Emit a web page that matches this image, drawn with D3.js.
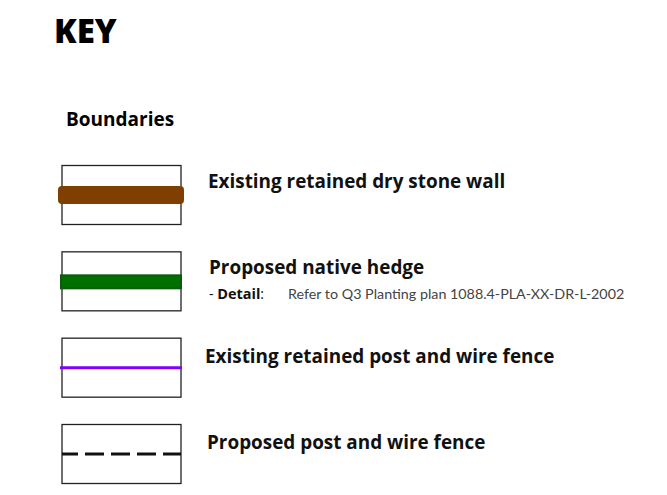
<!DOCTYPE html>
<html>
<head>
<meta charset="utf-8">
<script src="https://cdn.jsdelivr.net/npm/d3@7"></script>
<style>
  body { margin: 0; background: #fff; }
  text { font-family: "Open Sans", Lato, sans-serif; }
</style>
</head>
<body>
<div id="chart"></div>
<script>
// Key entries
const labels = [
  "Existing retained dry stone wall",
  "Proposed native hedge",
  "Existing retained post and wire fence",
  "Proposed post and wire fence"
];
const lineKinds = ["wall", "hedge", "fence", "dashed"];
const lineColors = ["#7f3f00", "#007000", "#8000ff", "#111111"];
const detailLabel = "Detail";
const detailText = "Refer to Q3 Planting plan 1088.4-PLA-XX-DR-L-2002";

const width = 667, height = 495;

const svg = d3.select("#chart")
  .append("svg")
  .attr("width", width)
  .attr("height", height);

// Titles
svg.append("text")
  .attr("x", 54).attr("y", 43)
  .style("font-size", "33px").style("font-weight", "800")
  .text("KEY");

svg.append("text")
  .attr("x", 66).attr("y", 126)
  .style("font-size", "19px").style("font-weight", "700")
  .text("Boundaries");

// row scale
const y = d3.scalePoint()
  .domain(labels)
  .range([195, 454]);

const boxX = 62, boxW = 119, boxH = 59;

const rows = svg.selectAll(".row")
  .data(labels)
  .enter()
  .append("g")
  .attr("class", "row")
  .attr("transform", d => `translate(0,${y(d)})`);

rows.append("rect")
  .attr("x", boxX)
  .attr("y", -29.5)
  .attr("width", boxW)
  .attr("height", boxH)
  .attr("fill", "none")
  .attr("stroke", "#222")
  .attr("stroke-width", 1.3);

rows.each(function(d, i) {
  const g = d3.select(this);
  const kind = lineKinds[i];
  if (kind === "wall") {
    g.append("rect")
      .attr("x", 58).attr("y", -9)
      .attr("width", 126).attr("height", 18)
      .attr("rx", 4)
      .attr("fill", lineColors[i]);
  } else if (kind === "hedge") {
    g.append("rect")
      .attr("x", 61).attr("y", -6)
      .attr("width", 120).attr("height", 13)
      .attr("fill", lineColors[i])
      .attr("stroke", "#0d5a0d")
      .attr("stroke-width", 2);
  } else if (kind === "fence") {
    g.append("line")
      .attr("x1", 60).attr("x2", 182)
      .attr("y1", 0).attr("y2", 0)
      .attr("stroke", lineColors[i])
      .attr("stroke-width", 3);
  } else {
    g.append("line")
      .attr("x1", 62).attr("x2", 181)
      .attr("y1", 0).attr("y2", 0)
      .attr("stroke", lineColors[i])
      .attr("stroke-width", 3)
      .attr("stroke-dasharray", "16 7 19 7 19 7 19 7 18");
  }
});

// labels
const labelX = [208, 209, 205, 207];
const labelDy = [-7, -7, -5, -5];
rows.append("text")
  .attr("x", (d, i) => labelX[i])
  .attr("y", (d, i) => labelDy[i])
  .style("font-size", "18.9px")
  .style("font-weight", "700")
  .attr("fill", "#111")
  .text(d => d);

// detail line under hedge
const detail = svg.append("text")
  .attr("x", 209)
  .attr("y", y(labels[1]) + 18)
  .style("font-size", "14px")
  .attr("fill", "#111");
detail.append("tspan").text("- ");
detail.append("tspan").style("font-weight", "700").style("font-size", "14.5px").text(detailLabel);
detail.append("tspan").text(":");
svg.append("text")
  .attr("x", 288)
  .attr("y", y(labels[1]) + 18)
  .style("font-size", "14.3px")
  .style("font-family", "Lato, sans-serif")
  .attr("fill", "#444")
  .text(detailText);
</script>
</body>
</html>
